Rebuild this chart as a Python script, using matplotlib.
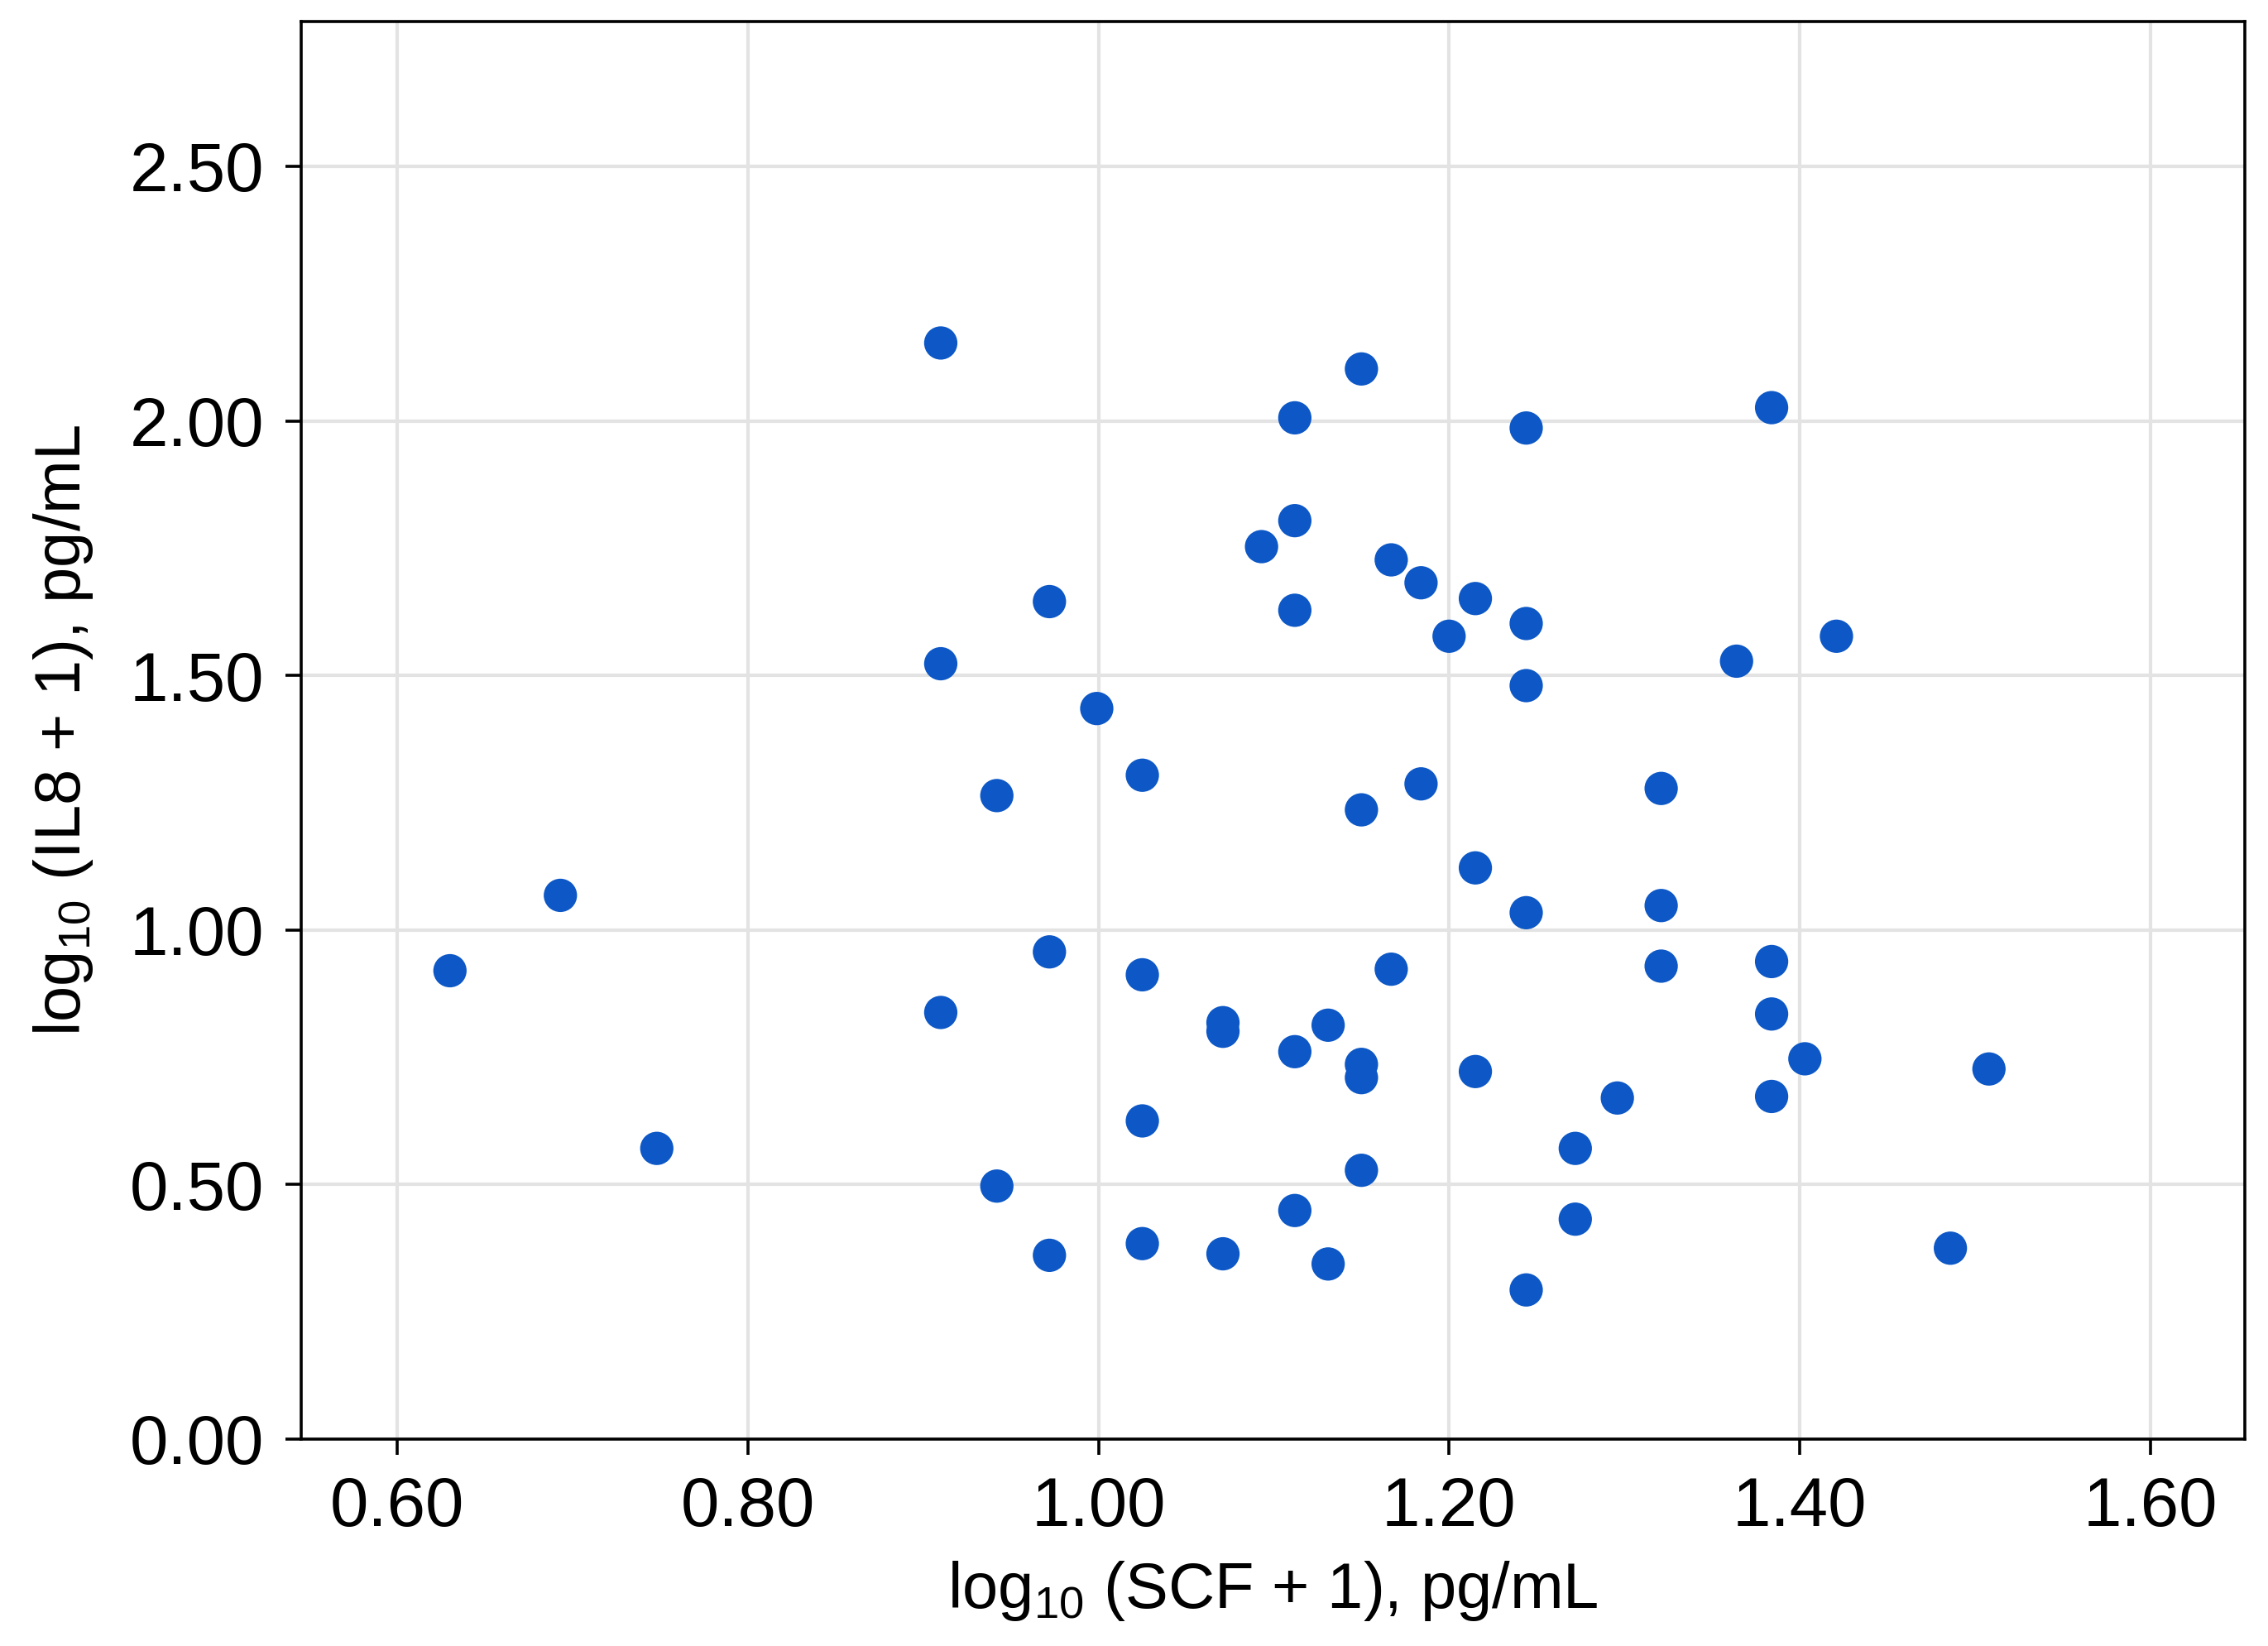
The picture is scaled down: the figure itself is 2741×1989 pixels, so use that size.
import matplotlib
matplotlib.use("Agg")
import matplotlib.pyplot as plt

scf = [0.910, 1.150, 1.112, 1.244, 1.384, 1.112, 1.093, 1.167, 1.184, 1.215,
       0.972, 1.112, 1.244, 1.200, 1.421, 1.364, 0.910, 1.244, 0.999, 1.025,
       0.942, 1.184, 1.321, 1.150, 1.215, 0.693, 1.244, 1.321, 0.630, 0.972,
       1.025, 1.167, 1.321, 1.384, 0.910, 1.384, 1.071, 1.071, 1.131, 1.112,
       1.150, 1.150, 1.215, 1.403, 1.508, 1.296, 1.384, 1.025, 0.748, 1.272,
       1.150, 0.942, 1.112, 1.272, 1.025, 0.972, 1.071, 1.131, 1.486, 1.244]
il8 = [2.153, 2.102, 2.006, 1.986, 2.026, 1.804, 1.753, 1.727, 1.682, 1.651,
       1.645, 1.628, 1.602, 1.577, 1.577, 1.528, 1.523, 1.480, 1.435, 1.304,
       1.264, 1.287, 1.278, 1.236, 1.122, 1.068, 1.034, 1.048, 0.920, 0.957,
       0.912, 0.923, 0.929, 0.938, 0.838, 0.835, 0.818, 0.801, 0.813, 0.761,
       0.736, 0.710, 0.722, 0.747, 0.727, 0.670, 0.673, 0.625, 0.571, 0.571,
       0.528, 0.497, 0.449, 0.432, 0.384, 0.361, 0.364, 0.344, 0.375, 0.293]

xticks = [0.60, 0.80, 1.00, 1.20, 1.40, 1.60]
yticks = [0.00, 0.50, 1.00, 1.50, 2.00, 2.50]

plt.rcParams['font.family'] = ['Liberation Sans', 'DejaVu Sans']
plt.rcParams['mathtext.fontset'] = 'custom'
plt.rcParams['mathtext.rm'] = 'Liberation Sans'

fig = plt.figure(figsize=(13.705, 9.945), dpi=200)
ax = fig.add_axes([0.1327, 0.1257, 0.8571, 0.8611])
ax.scatter(scf, il8, s=210, color='#0D58C6', edgecolors='none', zorder=3)
ax.set_xlim(0.545, 1.654)
ax.set_ylim(0, 2.784)
ax.set_xticks(xticks)
ax.set_yticks(yticks)
ax.set_xticklabels([f"{v:.2f}" for v in xticks])
ax.set_yticklabels([f"{v:.2f}" for v in yticks])
ax.grid(True, color='#e3e3e3', linewidth=1.5, zorder=0)
ax.set_axisbelow(True)
for sp in ax.spines.values():
    sp.set_linewidth(1.3)
    sp.set_color('black')
ax.tick_params(axis='both', labelsize=30, length=7, width=1.3, pad=9)
ax.set_xlabel(r'log$_{\mathrm{10}}$ (SCF + 1), pg/mL', fontsize=28, labelpad=8)
ax.set_ylabel(r'log$_{\mathrm{10}}$ (IL8 + 1), pg/mL', fontsize=28, labelpad=15)
fig.savefig('out.png', dpi=200)
